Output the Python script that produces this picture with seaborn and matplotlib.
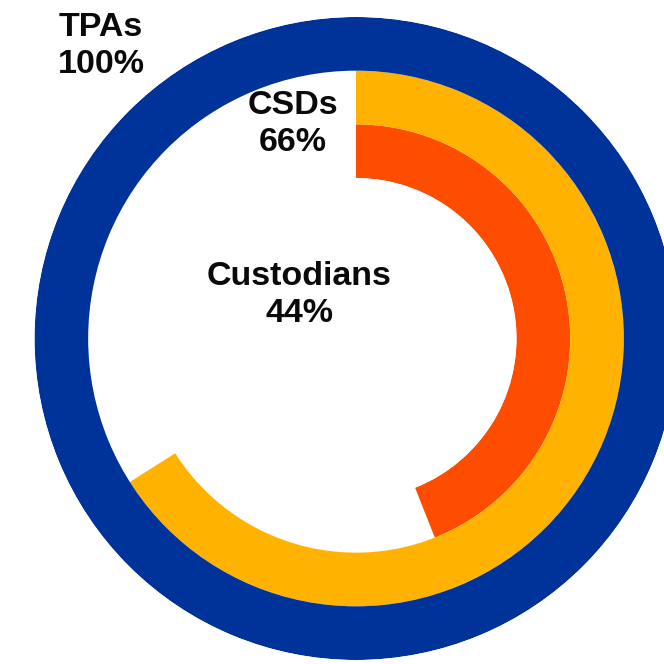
import numpy as np
import pandas as pd
import matplotlib
matplotlib.use("Agg")
import matplotlib.pyplot as plt
import seaborn as sns

categories = ["Custodians", "CSDs", "TPAs"]
percentages = [44, 66, 100]
colors = ["#FF4D00", "#FFB300", "#003399"]

sns.set_theme(style="white")
plt.rcParams["font.family"] = ["Liberation Sans", "DejaVu Sans"]

df = pd.DataFrame({
    "category": categories,
    "angle": [2 * np.pi * p / 100 for p in percentages],
})

W, H = 664, 664
fig = plt.figure(figsize=(W / 100, H / 100), dpi=100)
cx, cy, R = 356, 338.5, 321.5
ax = fig.add_axes([(cx - R) / W, (H - cy - R) / H, 2 * R / W, 2 * R / H],
                  projection="polar")
ax.set_theta_zero_location("N")
ax.set_theta_direction(-1)

sns.barplot(data=df, x="angle", y="category", hue="category", order=categories,
            palette=dict(zip(categories, colors)), orient="h", width=1.0,
            linewidth=0, saturation=1, legend=False, ax=ax)

ax.set_ylim(-0.5, 2.5)
ax.set_rorigin(-3.49)
ax.set_xlim(0, 2 * np.pi)
ax.set_axis_off()

labels = [f"{c}\n{p}%" for c, p in zip(categories, percentages)]
label_pos = [(299, 295), (293, 124), (101, 46)]
for txt, (px, py) in zip(labels, label_pos):
    fig.text(px / W, 1 - py / H, txt, ha="center", va="center",
             fontsize=24.5, fontweight="bold", color="#0a0a0a", linespacing=1.25)

fig.savefig("out.png", dpi=100)
